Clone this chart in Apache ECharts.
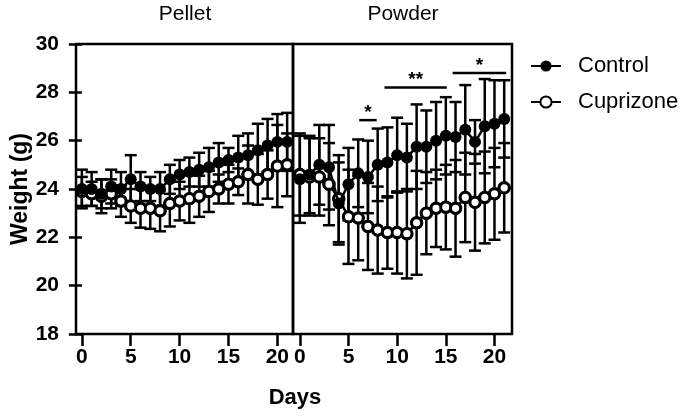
<!DOCTYPE html>
<html>
<head>
<meta charset="utf-8">
<script src="https://cdn.jsdelivr.net/npm/echarts@6/dist/echarts.min.js"></script>
<style>
  html, body { margin: 0; padding: 0; background: #fff; }
  #main { width: 685px; height: 416px; }
</style>
</head>
<body>
<div id="main"></div>
<script>
// days 0..21 for both feeding phases
const days = [0,1,2,3,4,5,6,7,8,9,10,11,12,13,14,15,16,17,18,19,20,21];
const xTicks = [0, 5, 10, 15, 20];

// Pellet phase
const pelletControl    = [24.0,24.0,23.8,24.1,24.0,24.4,24.1,24.0,24.0,24.4,24.6,24.7,24.8,24.9,25.1,25.2,25.3,25.4,25.6,25.8,25.95,25.95];
const pelletControlSd  = [0.8,0.7,0.6,0.7,0.7,1.0,0.6,0.5,0.7,0.6,0.6,0.6,0.7,0.8,0.8,0.5,0.9,0.9,1.1,1.1,1.15,1.2];
const pelletCupri      = [23.9,23.8,23.7,23.8,23.5,23.3,23.2,23.2,23.1,23.4,23.5,23.6,23.7,23.9,24.0,24.2,24.3,24.6,24.4,24.6,24.95,25.0];
const pelletCupriSd    = [0.6,0.5,0.7,0.6,0.65,0.7,0.8,0.85,0.85,0.95,0.8,1.0,0.85,0.85,0.6,0.8,0.55,1.2,1.05,1.0,1.7,1.3];

// Powder phase
const powderControl    = [24.4,24.6,25.0,24.9,23.4,24.2,24.65,24.5,25.0,25.1,25.4,25.3,25.75,25.75,26.0,26.2,26.15,26.45,25.95,26.6,26.7,26.9];
const powderControlSd  = [1.8,1.6,1.65,1.75,1.7,1.5,1.4,1.5,1.5,1.45,1.55,1.4,1.75,1.5,1.6,1.6,1.45,1.85,0.9,1.95,1.8,1.6];
const powderCupri      = [24.6,24.5,24.5,24.2,23.6,22.85,22.8,22.45,22.3,22.2,22.2,22.15,22.6,23.0,23.2,23.25,23.2,23.65,23.45,23.65,23.8,24.05];
const powderCupriSd    = [1.7,1.6,1.6,1.7,1.8,1.95,1.75,1.8,1.8,1.5,1.7,1.85,2.15,1.7,1.6,1.75,2.0,1.85,2.0,1.9,1.9,1.85];

// significance brackets on powder panel
const sigStart = [6.1, 8.7, 15.7];
const sigEnd   = [7.9, 15.1, 21.2];
const sigLevel = [26.85, 28.2, 28.8];
const sigText  = ['*', '**', '*'];

const FONT = '"Liberation Sans", Arial, Helvetica, sans-serif';

const chart = echarts.init(document.getElementById('main'));

function pts(vals) {
  return days.map((d, i) => [d, vals[i]]);
}
function errPts(vals, sds) {
  return days.map((d, i) => [d, vals[i], sds[i]]);
}
function errRender(params, api) {
  const x = api.value(0), y = api.value(1), e = api.value(2);
  const top = api.coord([x, y + e]);
  const bot = api.coord([x, y - e]);
  const w = 6;
  const st = { stroke: '#000', lineWidth: 2.5 };
  return {
    type: 'group',
    children: [
      { type: 'line', shape: { x1: top[0], y1: top[1], x2: bot[0], y2: bot[1] }, style: st },
      { type: 'line', shape: { x1: top[0] - w, y1: top[1], x2: top[0] + w, y2: top[1] }, style: st },
      { type: 'line', shape: { x1: bot[0] - w, y1: bot[1], x2: bot[0] + w, y2: bot[1] }, style: st }
    ]
  };
}
// open ring markers (thicker stroke than the line series symbol allows)
function ringRender(params, api) {
  const p = api.coord([api.value(0), api.value(1)]);
  return {
    type: 'circle',
    shape: { cx: p[0], cy: p[1], r: 5 },
    style: { fill: '#fff', stroke: '#000', lineWidth: 2.8 }
  };
}
function sigRender(params, api) {
  const a = api.coord([api.value(0), api.value(2)]);
  const b = api.coord([api.value(1), api.value(2)]);
  return {
    type: 'group',
    children: [
      { type: 'line', shape: { x1: a[0], y1: a[1], x2: b[0], y2: b[1] }, style: { stroke: '#000', lineWidth: 2.5 } },
      { type: 'text', x: (a[0] + b[0]) / 2, y: a[1] + 2,
        style: { text: sigText[params.dataIndex], fill: '#000', font: 'bold 19px ' + FONT, align: 'center', verticalAlign: 'bottom' } }
    ]
  };
}

function errSeries(idx, vals, sds) {
  return {
    type: 'custom', xAxisIndex: idx, yAxisIndex: idx, z: 1,
    renderItem: errRender, data: errPts(vals, sds), silent: true
  };
}
function ringSeries(idx, vals) {
  return {
    type: 'custom', xAxisIndex: idx, yAxisIndex: idx, z: 2.5,
    renderItem: ringRender, data: pts(vals), silent: true
  };
}
function lineSeries(idx, name, vals, filled) {
  return {
    name: name, type: 'line', xAxisIndex: idx, yAxisIndex: idx, z: filled ? 3 : 2,
    data: pts(vals),
    color: '#000',
    symbol: 'circle',
    symbolSize: filled ? 12 : 11,
    lineStyle: { color: '#000', width: 2.5 },
    itemStyle: filled
      ? { color: '#000' }
      : { color: '#fff', borderColor: '#000', borderWidth: 2.5 },
    emphasis: { disabled: true },
    animation: false
  };
}

const xAxisBase = {
  type: 'value',
  axisLine: { show: false },
  splitLine: { show: false },
  axisTick: { show: true, customValues: xTicks, length: 12, lineStyle: { color: '#000', width: 2.5 } },
  axisLabel: { customValues: xTicks, margin: 13, color: '#000', fontSize: 21, fontWeight: 'bold', fontFamily: FONT }
};

const option = {
  backgroundColor: '#fff',
  animation: false,
  textStyle: { fontFamily: FONT },
  grid: [
    { left: 76, top: 44, width: 217, height: 290, show: true, borderColor: '#000', borderWidth: 2.5, backgroundColor: 'transparent' },
    { left: 293, top: 44, width: 219, height: 290, show: true, borderColor: '#000', borderWidth: 2.5, backgroundColor: 'transparent' }
  ],
  xAxis: [
    Object.assign({}, xAxisBase, { gridIndex: 0, min: -0.6, max: 21.6 }),
    Object.assign({}, xAxisBase, { gridIndex: 1, min: -0.7, max: 21.8 })
  ],
  yAxis: [
    {
      gridIndex: 0, type: 'value', min: 18, max: 30, interval: 2,
      name: 'Weight (g)', nameLocation: 'middle', nameGap: 44, nameRotate: 90,
      nameTextStyle: { color: '#000', fontSize: 23, fontWeight: 'bold', fontFamily: FONT },
      axisLine: { show: false },
      splitLine: { show: false },
      axisTick: { show: true, length: 13, lineStyle: { color: '#000', width: 2.5 } },
      axisLabel: { margin: 17, color: '#000', fontSize: 21, fontWeight: 'bold', fontFamily: FONT }
    },
    { gridIndex: 1, type: 'value', min: 18, max: 30, show: false, splitLine: { show: false } }
  ],
  legend: {
    data: ['Control', 'Cuprizone'],
    orient: 'vertical',
    left: 525, top: 50,
    itemWidth: 30, itemHeight: 14, itemGap: 14,
    textStyle: { color: '#000', fontSize: 22, fontFamily: FONT, padding: [0, 0, 0, 12] },
    selectedMode: false
  },
  graphic: [
    { type: 'text', style: { text: 'Pellet', x: 185, y: 14, fill: '#000', font: '21px ' + FONT, align: 'center', verticalAlign: 'middle' } },
    { type: 'text', style: { text: 'Powder', x: 403, y: 14, fill: '#000', font: '21px ' + FONT, align: 'center', verticalAlign: 'middle' } },
    { type: 'text', style: { text: 'Days', x: 295, y: 398, fill: '#000', font: 'bold 22px ' + FONT, align: 'center', verticalAlign: 'middle' } }
  ],
  series: [
    errSeries(0, pelletCupri, pelletCupriSd),
    errSeries(0, pelletControl, pelletControlSd),
    lineSeries(0, 'Cuprizone', pelletCupri, false),
    ringSeries(0, pelletCupri),
    lineSeries(0, 'Control', pelletControl, true),
    errSeries(1, powderCupri, powderCupriSd),
    errSeries(1, powderControl, powderControlSd),
    lineSeries(1, 'Cuprizone', powderCupri, false),
    ringSeries(1, powderCupri),
    lineSeries(1, 'Control', powderControl, true),
    {
      type: 'custom', xAxisIndex: 1, yAxisIndex: 1, z: 4, silent: true,
      renderItem: sigRender,
      data: sigStart.map((s, i) => [s, sigEnd[i], sigLevel[i]])
    }
  ]
};

chart.setOption(option);
</script>
</body>
</html>
